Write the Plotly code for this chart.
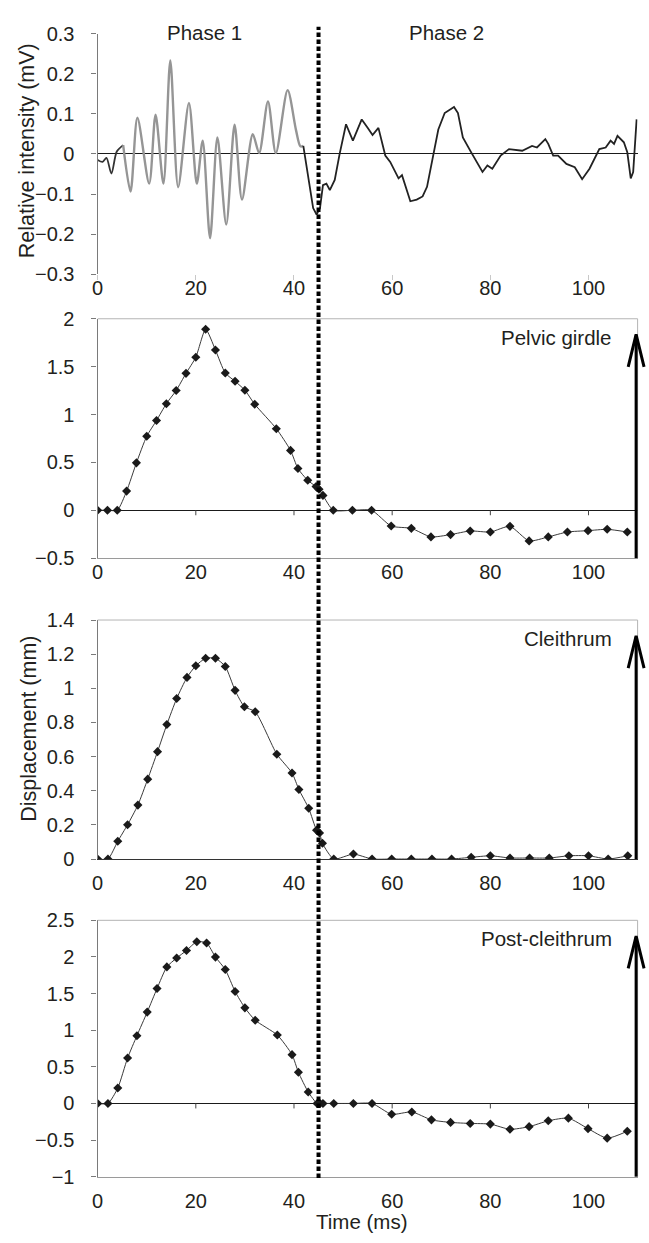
import plotly.graph_objects as go

W, H = 649, 1243

# ---------------- data ----------------
emg_t = [0, 1.0, 1.8, 2.8, 3.9, 5.2, 6.7, 8.1, 10.5, 11.8, 13.4, 14.8, 16.4, 18.6,
         20.2, 21.4, 22.9, 24.4, 26.2, 27.9, 29.4, 31.6, 32.9, 34.7, 36.3, 38.7,
         40.4, 41.3, 41.9, 43.9, 44.6, 45.3, 45.9, 46.6, 47.3, 48.3, 49.3, 50.6,
         52.0, 53.8, 55.0, 56.0, 57.2, 58.6, 59.6, 61.3, 62.0, 63.7, 65.0, 66.2,
         67.1, 68.1, 69.4, 70.7, 72.6, 73.4, 74.4, 76.1, 78.4, 79.4, 80.4, 82.1,
         83.8, 86.5, 88.5, 89.5, 91.2, 91.8, 92.8, 93.8, 95.5, 97.2, 98.7, 100.2,
         102.2, 103.5, 104.5, 105.2, 105.9, 107.2, 107.9, 108.6, 109.1, 109.8]
emg_v = [-0.015, -0.02, -0.01, -0.049, 0.006, 0.022, -0.094, 0.09, -0.074, 0.098,
         -0.074, 0.233, -0.083, 0.127, -0.074, 0.033, -0.21, 0.041, -0.176, 0.073,
         -0.114, 0.049, 0.002, 0.131, 0.002, 0.159, 0.06, 0.019, 0.02, -0.135,
         -0.151, -0.135, -0.078, -0.074, -0.09, -0.065, 0.0, 0.074, 0.033, 0.086,
         0.065, 0.047, 0.065, -0.004, -0.02, -0.061, -0.053, -0.118, -0.114, -0.106,
         -0.082, -0.02, 0.061, 0.102, 0.117, 0.102, 0.041, 0.004, -0.045, -0.029,
         -0.037, -0.004, 0.012, 0.008, 0.02, 0.016, 0.037, 0.025, -0.004, -0.004,
         -0.025, -0.033, -0.063, -0.037, 0.012, 0.016, 0.033, 0.025, 0.045, 0.029,
         0.004, -0.061, -0.045, 0.086]

pelvic_t = [0, 2, 4, 5.9, 7.9, 10, 12, 14, 16, 18, 20, 22, 24, 26, 28, 30, 32, 36.4,
            39.3, 40.8, 42.8, 44.5, 45.1, 45.9, 48, 51.9, 55.8, 59.8, 63.9, 67.9,
            71.9, 75.9, 80, 84, 87.9, 91.8, 95.7, 99.9, 103.8, 107.9]
pelvic_v = [0, 0, 0, 0.2, 0.495, 0.773, 0.938, 1.113, 1.251, 1.43, 1.598, 1.89, 1.674,
            1.433, 1.347, 1.254, 1.107, 0.852, 0.625, 0.436, 0.313, 0.247, 0.22, 0.155,
            0, 0, 0, -0.165, -0.189, -0.278, -0.254, -0.216, -0.227, -0.168, -0.32,
            -0.278, -0.227, -0.213, -0.199, -0.227]

cleithrum_t = [0, 2.1, 4.1, 6.1, 8.2, 10.2, 12.2, 14.1, 16.1, 18.2, 20, 22, 24, 26, 28,
               29.9, 32.1, 36.5, 39.6, 41, 43, 44.6, 45.2, 45.8, 48.1, 52.1, 55.9,
               59.9, 63.9, 68.1, 72.1, 76.1, 80, 84, 88, 92, 96, 100, 104, 108]
cleithrum_v = [0, 0, 0.104, 0.201, 0.316, 0.468, 0.629, 0.788, 0.94, 1.064, 1.132,
               1.176, 1.176, 1.128, 0.988, 0.892, 0.863, 0.614, 0.504, 0.407, 0.297,
               0.169, 0.153, 0.092, 0, 0.029, 0, 0, 0, 0, 0, 0.01, 0.019, 0.006,
               0.006, 0.006, 0.019, 0.019, 0, 0.019]

post_t = [0, 2.1, 4.1, 6.1, 8, 10.1, 12.1, 14.1, 16.1, 18.1, 20.2, 22.2, 24, 26, 28,
          30, 32.1, 36.6, 39.6, 40.9, 42.9, 44.7, 45.3, 45.9, 48.1, 52.1, 55.9, 59.9,
          64, 68, 71.9, 75.9, 80, 84, 87.9, 91.8, 95.9, 99.9, 103.8, 107.9]
post_v = [0, 0, 0.21, 0.62, 0.925, 1.247, 1.569, 1.864, 1.985, 2.088, 2.208, 2.19,
          1.998, 1.828, 1.529, 1.305, 1.135, 0.934, 0.666, 0.425, 0.156, 0, 0, 0, 0,
          0, 0, -0.148, -0.116, -0.224, -0.259, -0.273, -0.282, -0.353, -0.317,
          -0.237, -0.201, -0.344, -0.474, -0.38]

phase_boundary = 45.0
x_range = [0, 110]
x_ticks = [0, 20, 40, 60, 80, 100]

emg_yticks = [-0.3, -0.2, -0.1, 0, 0.1, 0.2, 0.3]
emg_yticklabels = ["\u22120.3", "\u22120.2", "\u22120.1", "0", "0.1", "0.2", "0.3"]
pelvic_yticks = [-0.5, 0, 0.5, 1, 1.5, 2]
pelvic_yticklabels = ["\u22120.5", "0", "0.5", "1", "1.5", "2"]
cleithrum_yticks = [0, 0.2, 0.4, 0.6, 0.8, 1, 1.2, 1.4]
cleithrum_yticklabels = ["0", "0.2", "0.4", "0.6", "0.8", "1", "1.2", "1.4"]
post_yticks = [-1, -0.5, 0, 0.5, 1, 1.5, 2, 2.5]
post_yticklabels = ["\u22121", "\u22120.5", "0", "0.5", "1", "1.5", "2", "2.5"]

panel_labels = ["Pelvic girdle", "Cleithrum", "Post-cleithrum"]

# ---------------- layout geometry (pixels) ----------------
FONT = "Liberation Sans, Arial, Helvetica, sans-serif"
TXT = "#231f20"
FS = 20
FS_LAB = 20.5
FS_TITLE = 21.5
X_LEFT, X_RIGHT = 92.5, 637.5
panels = [  # (top px, bottom px)
    (23, 268),
    (313.3, 557),
    (620, 863.3),
    (925.7, 1186.7),
]


def px(x):
    return x / W


def py(y):
    return 1 - y / H


fig = go.Figure()

# EMG trace: phase-1 oscillations drawn lighter, like the original
idx = list(range(len(emg_t)))
seg_dark1 = [i for i in idx if emg_t[i] <= 5.2]
seg_gray = [i for i in idx if 5.2 <= emg_t[i] <= 42.0]
seg_dark2 = [i for i in idx if emg_t[i] >= 41.9]
for seg, col, shp in [(seg_dark1, "#333333", "spline"), (seg_gray, "#959595", "spline"),
                      (seg_dark2, "#222222", "linear")]:
    fig.add_trace(go.Scatter(
        x=[emg_t[i] for i in seg], y=[emg_v[i] for i in seg], mode="lines",
        line=dict(color=col, width=2.4 if col == "#959595" else 1.8, shape=shp, smoothing=0.8),
        xaxis="x", yaxis="y", showlegend=False, hoverinfo="skip"))

for k, (tt, vv) in enumerate([(pelvic_t, pelvic_v), (cleithrum_t, cleithrum_v), (post_t, post_v)]):
    n = k + 2
    fig.add_trace(go.Scatter(
        x=tt, y=vv, mode="lines+markers",
        line=dict(color="#3a3a3a", width=1, shape="spline", smoothing=0.6),
        marker=dict(symbol="diamond", size=7, color="#1a1a1a"),
        xaxis=f"x{n}", yaxis=f"y{n}", showlegend=False, hoverinfo="skip"))

yt = [(emg_yticks, emg_yticklabels), (pelvic_yticks, pelvic_yticklabels),
      (cleithrum_yticks, cleithrum_yticklabels), (post_yticks, post_yticklabels)]
yranges = [[-0.3, 0.3], [-0.5, 2], [0, 1.4], [-1, 2.5]]
standoffs = [-9, -4, 6, 6]

layout = dict(
    width=W, height=H, margin=dict(l=0, r=0, t=0, b=0),
    paper_bgcolor="white", plot_bgcolor="white",
    font=dict(family=FONT, size=FS, color=TXT),
    showlegend=False,
)
shapes = []
annotations = []

for i, (top, bot) in enumerate(panels):
    n = "" if i == 0 else str(i + 1)
    xa = dict(
        domain=[px(X_LEFT), px(X_RIGHT)], range=x_range, anchor=f"y{n}",
        tickvals=x_ticks, ticktext=[str(v) for v in x_ticks],
        showgrid=False, zeroline=False,
        tickfont=dict(family=FONT, size=FS, color=TXT),
        ticks="outside" if i == 0 else "", ticklen=5, tickcolor="#c8c8c8",
        ticklabelstandoff=standoffs[i],
        showline=(i != 0), linecolor="#9a9a9a" if i != 2 else "#333333", linewidth=1,
        mirror=False,
    )
    ya = dict(
        domain=[py(bot), py(top)], range=yranges[i], anchor=f"x{n}",
        tickvals=yt[i][0], ticktext=yt[i][1],
        showgrid=False, zeroline=(i != 2), zerolinecolor="#1a1a1a", zerolinewidth=1.3,
        showline=True, linecolor="#7a7a7a", linewidth=1.3,
        ticks="outside", ticklen=5, tickcolor="#7a7a7a",
        tickfont=dict(family=FONT, size=FS, color=TXT),
        ticklabelstandoff=13,
    )
    layout["xaxis" + n] = xa
    layout["yaxis" + n] = ya

    if i > 0:
        # light frame top & right
        shapes.append(dict(type="line", xref="paper", yref="paper",
                           x0=px(X_LEFT), x1=px(X_RIGHT), y0=py(top), y1=py(top),
                           line=dict(color="#b4b4b4", width=1)))
        shapes.append(dict(type="line", xref="paper", yref="paper",
                           x0=px(X_RIGHT), x1=px(X_RIGHT), y0=py(top), y1=py(bot),
                           line=dict(color="#b4b4b4", width=1)))
        # tick marks on zero line
        for tv in x_ticks[1:]:
            shapes.append(dict(type="line", xref=f"x{n}", yref=f"y{n}",
                               x0=tv, x1=tv, ysizemode="pixel", yanchor=0, y0=-5, y1=0,
                               line=dict(color="#444444", width=1)))
        # arrow
        ax_ = 636
        tip = top + 16
        shapes.append(dict(type="line", xref="paper", yref="paper",
                           x0=px(ax_), x1=px(ax_), y0=py(bot), y1=py(tip + 1),
                           line=dict(color="black", width=3)))
        shapes.append(dict(type="path", xref="paper", yref="paper",
                           path=f"M {px(ax_ - 8)},{py(tip + 33)} L {px(ax_)},{py(tip)} L {px(ax_ + 8)},{py(tip + 33)}",
                           line=dict(color="black", width=3)))
        annotations.append(dict(text=panel_labels[i - 1], xref="paper", yref="paper",
                                x=px(614), y=py(top + 19), xanchor="right", yanchor="middle",
                                showarrow=False, font=dict(family=FONT, size=FS_LAB, color=TXT)))

# dotted phase boundary across all panels
shapes.append(dict(type="line", xref="x", yref="paper",
                   x0=phase_boundary, x1=phase_boundary, y0=py(1188), y1=py(16),
                   line=dict(color="black", width=4, dash="4.5px,2.5px")))

annotations += [
    dict(text="Phase 1", xref="paper", yref="paper", x=px(200), y=py(22),
         xanchor="center", yanchor="middle", showarrow=False,
         font=dict(family=FONT, size=FS_LAB, color=TXT)),
    dict(text="Phase 2", xref="paper", yref="paper", x=px(445), y=py(22),
         xanchor="center", yanchor="middle", showarrow=False,
         font=dict(family=FONT, size=FS_LAB, color=TXT)),
    dict(text="Relative intensity (mV)", xref="paper", yref="paper", x=px(22), y=py(142),
         xanchor="center", yanchor="middle", textangle=-90, showarrow=False,
         font=dict(family=FONT, size=FS_TITLE, color=TXT)),
    dict(text="Displacement (mm)", xref="paper", yref="paper", x=px(23), y=py(731),
         xanchor="center", yanchor="middle", textangle=-90, showarrow=False,
         font=dict(family=FONT, size=FS_TITLE, color=TXT)),
    dict(text="Time (ms)", xref="paper", yref="paper", x=px(359), y=py(1232),
         xanchor="center", yanchor="middle", showarrow=False,
         font=dict(family=FONT, size=FS_LAB, color=TXT)),
]

layout["shapes"] = shapes
layout["annotations"] = annotations
fig.update_layout(**layout)

fig.write_html("out.html")
